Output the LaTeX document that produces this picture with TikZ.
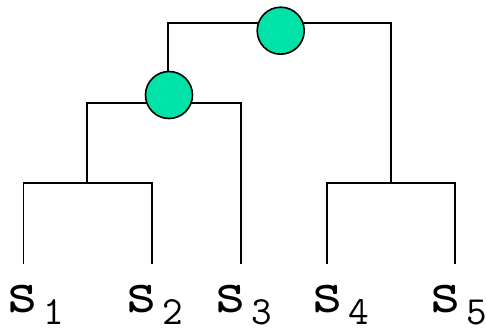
\documentclass[tikz,border=0pt]{standalone}
\usepackage{fontspec}
\definecolor{mint}{RGB}{0,226,168}
\tikzset{
  edge/.style={line width=1.8pt, line cap=rect},
  mergenode/.style={circle, draw=black, line width=1.6pt, fill=mint, minimum size=47pt, inner sep=0pt},
  leaf/.style={inner sep=0pt, anchor=base west, font=\ttfamily\fontsize{62}{62}\selectfont},
}
\newcommand{\leafsub}[1]{\kern4.8pt\raisebox{-12pt}{\fontsize{40}{40}\selectfont #1}}
\begin{document}
\begin{tikzpicture}[x=1pt,y=-1pt]
\useasboundingbox (0,0) rectangle (486,329);
% leaf tops
\coordinate (a1) at (23.5,262.7);
\coordinate (a2) at (151.7,262.7);
\coordinate (a3) at (240.7,262.7);
\coordinate (a4) at (327.3,262.7);
\coordinate (a5) at (455.3,262.7);
% bars
\coordinate (b1) at (23.5,182.7);
\coordinate (b2) at (151.7,182.7);
\coordinate (m12) at (87.3,182.7);
\coordinate (u12) at (87.3,102.7);
\coordinate (b3) at (240.7,102.7);
\coordinate (b4) at (327.3,182.7);
\coordinate (b5) at (455.3,182.7);
\coordinate (m45) at (391.3,182.7);
\coordinate (u45) at (391.3,22.7);
\coordinate (m123) at (167.7,102.7);
\coordinate (u123) at (167.7,22.7);
% edges
\draw[edge] (a1) -- (b1) -- (b2) -- (a2);
\draw[edge] (m12) -- (u12) -- (b3) -- (a3);
\draw[edge] (a4) -- (b4) -- (b5) -- (a5);
\draw[edge] (m45) -- (u45) -- (u123) -- (m123);
% internal nodes
\node[mergenode] (c1) at (169,95) {};
\node[mergenode] (c2) at (280.7,30.7) {};
% labels
\node[leaf] (s1) at (6.7,312) {s\leafsub{1}};
\node[leaf] (s2) at (125.4,312) {s\leafsub{2}};
\node[leaf] (s3) at (214.7,312) {s\leafsub{3}};
\node[leaf] (s4) at (311.2,312) {s\leafsub{4}};
\node[leaf] (s5) at (429.7,312) {s\leafsub{5}};
\end{tikzpicture}
\end{document}
